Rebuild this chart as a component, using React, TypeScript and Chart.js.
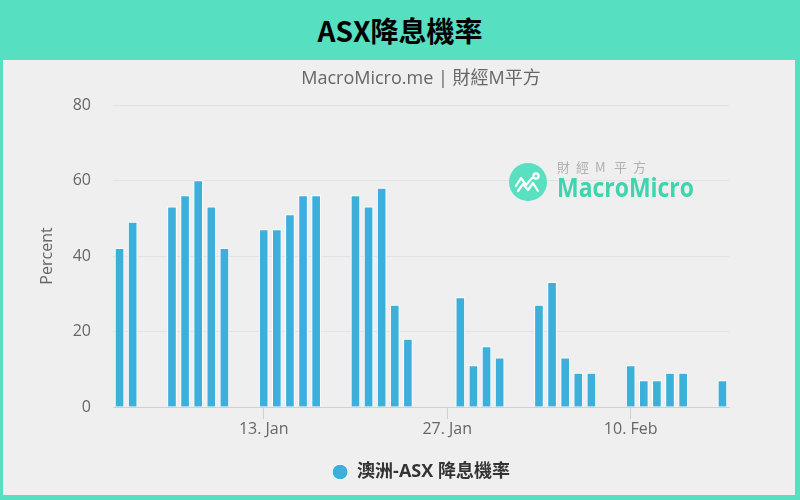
import React, { useEffect, useRef } from "react";
import { Chart, registerables } from "chart.js";

Chart.register(...registerables);

// ---- data ----
const dates = [
  "2020-01-02", "2020-01-03",
  "2020-01-06", "2020-01-07", "2020-01-08", "2020-01-09", "2020-01-10",
  "2020-01-13", "2020-01-14", "2020-01-15", "2020-01-16", "2020-01-17",
  "2020-01-20", "2020-01-21", "2020-01-22", "2020-01-23", "2020-01-24",
  "2020-01-28", "2020-01-29", "2020-01-30", "2020-01-31",
  "2020-02-03", "2020-02-04", "2020-02-05", "2020-02-06", "2020-02-07",
  "2020-02-10", "2020-02-11", "2020-02-12", "2020-02-13", "2020-02-14",
  "2020-02-17",
];
const values = [
  42, 49,
  53, 56, 60, 53, 42,
  47, 47, 51, 56, 56,
  56, 53, 58, 27, 18,
  29, 11, 16, 13,
  27, 33, 13, 9, 9,
  11, 7, 7, 9, 9,
  7,
];
const tickDates = ["2020-01-13", "2020-01-27", "2020-02-10"];
const tickLabels = ["13. Jan", "27. Jan", "10. Feb"];
const yMin = 0;
const yMax = 80;
const yStep = 20;
const headerTitle = "ASX降息機率";
const subTitle = "MacroMicro.me | 財經M平方";
const yAxisTitle = "Percent";
const seriesName = "澳洲-ASX 降息機率";

function dayIndex(s: string): number {
  const [, m, d] = s.split("-").map(Number);
  return m === 1 ? d : 31 + d;
}

const FONT = "'Open Sans', 'Noto Sans CJK TC', sans-serif";
const TEAL = "#56dfc0";
const BAR = "#3cb0db";

const watermark = {
  id: "watermark",
  beforeDatasetsDraw(chart: any) {
    const ctx = chart.ctx as CanvasRenderingContext2D;
    const cx = 525, cy = 122, r = 19;
    ctx.save();
    ctx.fillStyle = "#58e0c1";
    ctx.beginPath();
    ctx.arc(cx, cy, r, 0, Math.PI * 2);
    ctx.fill();
    ctx.strokeStyle = "#ffffff";
    ctx.lineWidth = 2.2;
    ctx.lineJoin = "round";
    ctx.lineCap = "round";
    ctx.beginPath();
    ctx.moveTo(cx - 12, cy + 4);
    ctx.lineTo(cx - 7, cy - 4);
    ctx.lineTo(cx - 2, cy + 3);
    ctx.lineTo(cx + 4, cy - 4);
    ctx.stroke();
    ctx.beginPath();
    ctx.moveTo(cx - 10, cy + 9);
    ctx.lineTo(cx - 5, cy + 2);
    ctx.lineTo(cx, cy + 8);
    ctx.lineTo(cx + 5, cy + 1);
    ctx.lineTo(cx + 10, cy + 9);
    ctx.stroke();
    ctx.beginPath();
    ctx.arc(cx + 8, cy - 6, 2.6, 0, Math.PI * 2);
    ctx.stroke();
    ctx.fillStyle = "#b0b0b0";
    ctx.font = "13px 'Noto Sans CJK TC', sans-serif";
    ctx.textBaseline = "middle";
    ctx.textAlign = "left";
    const chars = ["財", "經", "M", "平", "方"];
    chars.forEach((c, i) => ctx.fillText(c, 554 + i * 19, 107));
    ctx.fillStyle = "#3fd3ae";
    ctx.font = "bold 27px 'Open Sans', sans-serif";
    const txt = "MacroMicro";
    const w = ctx.measureText(txt).width;
    ctx.translate(554, 129);
    ctx.scale(137 / w, 1);
    ctx.fillText(txt, 0, 0);
    ctx.restore();
  },
};

export default function App() {
  const ref = useRef<HTMLCanvasElement | null>(null);

  useEffect(() => {
    if (!ref.current) return;
    const xs = dates.map(dayIndex);
    const tickVals = tickDates.map(dayIndex);
    const chart = new Chart(ref.current, {
      type: "bar",
      data: {
        datasets: [
          {
            label: seriesName,
            data: xs.map((x, i) => ({ x, y: values[i] })),
            backgroundColor: BAR,
            borderColor: "#ffffff",
            borderWidth: 1,
            borderSkipped: "bottom",
            barThickness: 9,
          },
        ],
      },
      options: {
        animation: false,
        responsive: false,
        maintainAspectRatio: false,
        layout: { padding: { left: 0, right: 66, top: 0, bottom: 4 } },
        font: { family: FONT },
        plugins: {
          tooltip: { enabled: false },
          title: {
            display: true,
            text: subTitle,
            fullSize: false,
            color: "#666666",
            font: { family: FONT, size: 18, weight: "normal" },
            padding: { top: 8, bottom: 15.4 },
          },
          legend: {
            display: true,
            position: "bottom",
            fullSize: false,
            labels: {
              usePointStyle: true,
              pointStyle: "circle",
              boxHeight: 11,
              pointStyleWidth: 16,
              color: "#333333",
              font: { family: FONT, size: 18, weight: "bold" },
              padding: 10,
            },
          },
        },
        scales: {
          x: {
            type: "linear",
            min: xs[0] - 0.5,
            max: xs[xs.length - 1] + 0.5,
            offset: false,
            afterBuildTicks: (scale: any) => {
              scale.ticks = tickVals.map((v) => ({ value: v }));
            },
            afterFit: (scale: any) => {
              scale.height = 46;
            },
            ticks: {
              autoSkip: false,
              maxRotation: 0,
              padding: 1,
              color: "#666666",
              font: { family: FONT, size: 16 },
              callback: (v: any) => {
                const i = tickVals.indexOf(Number(v));
                return i >= 0 ? tickLabels[i] : "";
              },
            },
            grid: {
              offset: false,
              drawOnChartArea: false,
              drawTicks: true,
              tickLength: 12,
              color: "#d0d0d0",
            },
            border: { display: true, color: "#d0d0d0", width: 1 },
          },
          y: {
            min: yMin,
            max: yMax,
            afterFit: (scale: any) => {
              scale.width = 110;
            },
            ticks: {
              stepSize: yStep,
              padding: 22,
              color: "#666666",
              font: { family: FONT, size: 16 },
            },
            grid: {
              drawTicks: false,
              color: (c: any) => (c.tick && c.tick.value === 0 ? "#d0d0d0" : "#e2e2e2"),
            },
            border: { display: false },
            title: {
              display: true,
              text: yAxisTitle,
              color: "#666666",
              font: { family: FONT, size: 16 },
              padding: { top: 35, bottom: 0 },
            },
          },
        },
      },
      plugins: [watermark],
    } as any);
    return () => chart.destroy();
  }, []);

  return (
    <div
      style={{
        position: "fixed",
        left: 0,
        top: 0,
        width: 800,
        height: 500,
        background: TEAL,
        overflow: "hidden",
      }}
    >
      <div
        style={{
          position: "absolute",
          left: 0,
          top: 0,
          width: 800,
          height: 60,
          display: "flex",
          alignItems: "center",
          justifyContent: "center",
          fontFamily: "'Noto Sans CJK TC', 'Noto Sans', sans-serif",
          fontWeight: 700,
          fontSize: 28,
          color: "#000000",
        }}
      >
        {headerTitle}
      </div>
      <div
        style={{
          position: "absolute",
          left: 3,
          top: 60,
          width: 792,
          height: 435,
          background: "#efefef",
        }}
      >
        <canvas ref={ref} width={792} height={435} style={{ display: "block", width: 792, height: 435 }} />
      </div>
    </div>
  );
}
